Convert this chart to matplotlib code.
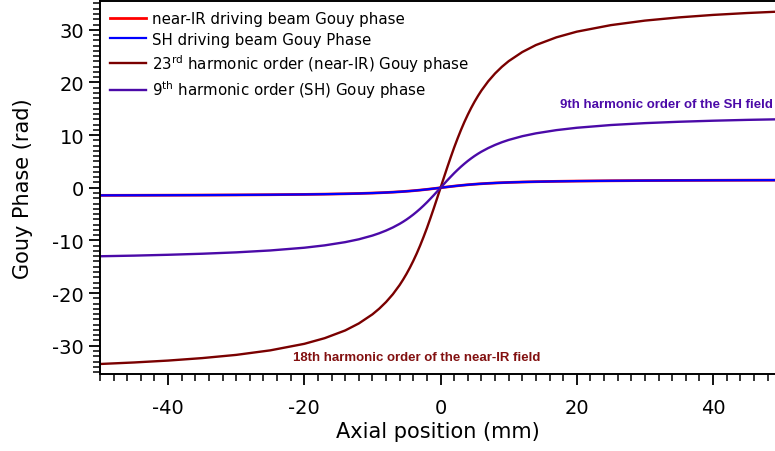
import matplotlib.pyplot as plt
from matplotlib.ticker import MultipleLocator

plt.rcParams['axes.unicode_minus'] = False

# Axial positions (mm) and Gouy phases (rad)
z = [-50, -45, -40, -35, -30, -25, -20, -17, -14, -12, -10, -9, -8, -7, -6, -5.5, -5, -4.5,
     -4, -3.5, -3, -2.5, -2, -1.5, -1, -0.5,
     0, 0.5, 1, 1.5, 2, 2.5, 3, 3.5, 4, 4.5, 5, 5.5, 6, 7, 8, 9, 10, 12, 14, 17, 20,
     25, 30, 35, 40, 45, 50]

phase_nir = [-1.446, -1.432, -1.415, -1.393, -1.364, -1.324, -1.266, -1.216, -1.148, -1.088,
             -1.009, -0.960, -0.904, -0.838, -0.761, -0.718, -0.671, -0.620,
             -0.566, -0.507, -0.445, -0.378, -0.308, -0.234, -0.157, -0.079,
             0.0, 0.079, 0.157, 0.234, 0.308, 0.378, 0.445, 0.507, 0.566, 0.620, 0.671,
             0.718, 0.761, 0.838, 0.904, 0.960, 1.009, 1.088, 1.148, 1.216, 1.266,
             1.324, 1.364, 1.393, 1.415, 1.432, 1.446]

phase_sh = [-1.446, -1.432, -1.415, -1.393, -1.364, -1.324, -1.266, -1.216, -1.148, -1.088,
            -1.009, -0.960, -0.904, -0.838, -0.761, -0.718, -0.671, -0.620,
            -0.566, -0.507, -0.445, -0.378, -0.308, -0.234, -0.157, -0.079,
            0.0, 0.079, 0.157, 0.234, 0.308, 0.378, 0.445, 0.507, 0.566, 0.620, 0.671,
            0.718, 0.761, 0.838, 0.904, 0.960, 1.009, 1.088, 1.148, 1.216, 1.266,
            1.324, 1.364, 1.393, 1.415, 1.432, 1.446]

phase_h23 = [-33.47, -33.18, -32.82, -32.35, -31.74, -30.88, -29.64, -28.56, -27.10, -25.77,
             -24.04, -22.96, -21.70, -20.22, -18.46, -17.45, -16.36, -15.17,
             -13.88, -12.49, -10.98, -9.36, -7.65, -5.82, -3.93, -1.98,
             0.0, 1.98, 3.93, 5.82, 7.65, 9.36, 10.98, 12.49, 13.88, 15.17, 16.36,
             17.45, 18.46, 20.22, 21.70, 22.96, 24.04, 25.77, 27.10, 28.56, 29.64,
             30.88, 31.74, 32.35, 32.82, 33.18, 33.47]

phase_h9 = [-13.01, -12.89, -12.73, -12.53, -12.27, -11.91, -11.39, -10.94, -10.33, -9.79,
            -9.08, -8.64, -8.13, -7.54, -6.85, -6.46, -6.04, -5.58,
            -5.09, -4.56, -4.00, -3.40, -2.77, -2.10, -1.42, -0.71,
            0.0, 0.71, 1.42, 2.10, 2.77, 3.40, 4.00, 4.56, 5.09, 5.58, 6.04,
            6.46, 6.85, 7.54, 8.13, 8.64, 9.08, 9.79, 10.33, 10.94, 11.39,
            11.91, 12.27, 12.53, 12.73, 12.89, 13.01]

c_nir = '#ff0000'
c_sh = '#0000ff'
c_h23 = '#7a0000'
c_h9 = '#4b0aa8'

fig = plt.figure(figsize=(7.75, 4.52), dpi=100)
ax = fig.add_axes([0.129, 0.170, 0.871, 0.826])

ax.plot(z, phase_nir, color=c_nir, lw=2.0, label='near-IR driving beam Gouy phase')
ax.plot(z, phase_sh, color=c_sh, lw=1.6, label='SH driving beam Gouy Phase')
ax.plot(z, phase_h23, color=c_h23, lw=1.7, label='23$^{\\rm rd}$ harmonic order (near-IR) Gouy phase')
ax.plot(z, phase_h9, color=c_h9, lw=1.7, label='9$^{\\rm th}$ harmonic order (SH) Gouy phase')

ax.text(48.8, 15.9, '9th harmonic order of the SH field', color=c_h9, fontsize=9.5,
        fontweight='bold', ha='right', va='center', family='Liberation Sans')
ax.text(-3.5, -32.2, '18th harmonic order of the near-IR field', color='#821010', fontsize=9.5,
        fontweight='bold', ha='center', va='center', family='Liberation Sans')

ax.set_xlim(-50, 49.1)
ax.set_ylim(-35.4, 35.5)
ax.xaxis.set_major_locator(MultipleLocator(20))
ax.xaxis.set_minor_locator(MultipleLocator(2))
ax.yaxis.set_major_locator(MultipleLocator(10))
ax.yaxis.set_minor_locator(MultipleLocator(1))
ax.tick_params(which='major', direction='out', length=8, width=1.3, labelsize=14)
ax.tick_params(axis='x', which='major', pad=9)
ax.tick_params(which='minor', direction='out', length=5, width=1.1)
ax.spines['right'].set_visible(False)
for s in ('left', 'bottom', 'top'):
    ax.spines[s].set_linewidth(1.4)

ax.set_xlabel('Axial position (mm)', fontsize=15, labelpad=3)
ax.set_ylabel('Gouy Phase (rad)', fontsize=15, labelpad=14)

ax.legend(loc='upper left', frameon=False, fontsize=10.8, handlelength=2.4,
          borderaxespad=0.3, labelspacing=0.35, handletextpad=0.35)

fig.savefig('out.png', dpi=100)
